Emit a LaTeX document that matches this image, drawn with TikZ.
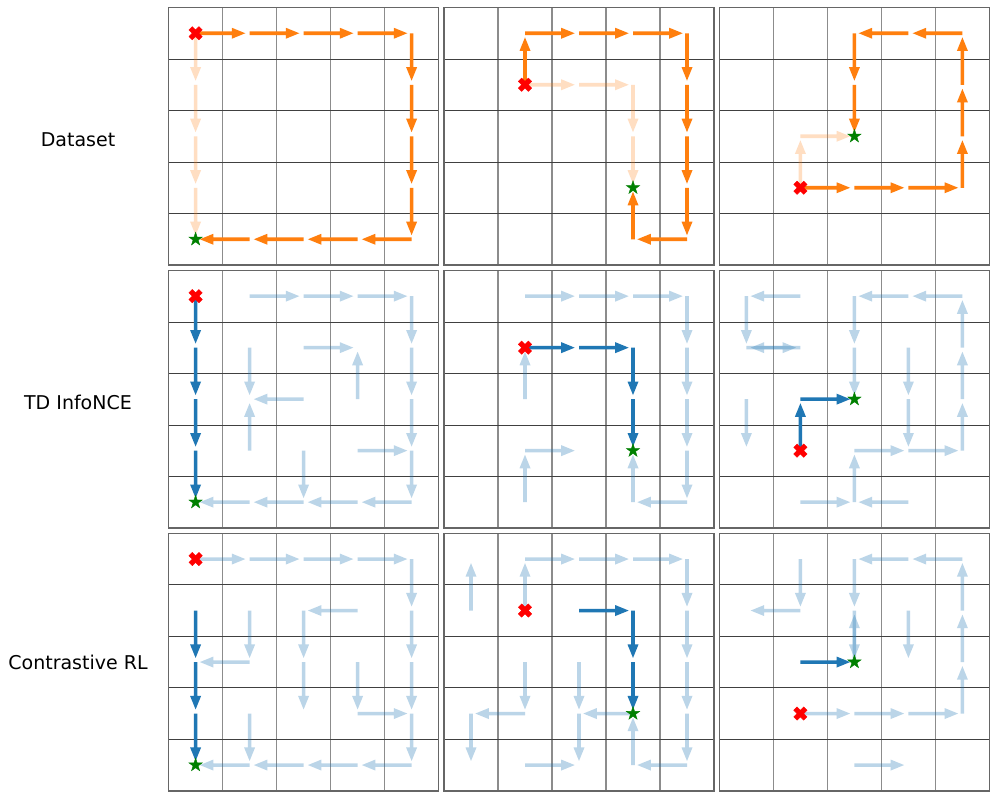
\documentclass[tikz,border=0pt]{standalone}
\usepackage{fontspec}
\setmainfont{DejaVu Sans}
\usetikzlibrary{shapes.geometric}
\definecolor{cone}{RGB}{255,127,14}
\definecolor{cblue}{RGB}{31,119,180}
\definecolor{cgreen}{RGB}{0,128,0}
\tikzset{
 dorange/.style={fill=cone},
 lorange/.style={fill=cone, fill opacity=0.25},
 dblue/.style={fill=cblue},
 lblue/.style={fill=cblue, fill opacity=0.3},
 vgrid/.style={draw=black!45, line width=1.1pt},
 hgrid/.style={draw=black!75, line width=0.7pt},
 frame/.style={draw=black!60, line width=1.4pt},
 goal/.style={star, star points=5, star point ratio=2.6, minimum size=14pt, inner sep=0pt, fill=cgreen, draw=cgreen, line width=0.4pt},
 rowlabel/.style={font=\fontsize{19}{23}\selectfont, anchor=base, inner sep=0pt},
}
\newcommand\qarrow[5]{%
 \pgfmathsetmacro\qsx{27+54*(#2)}%
 \pgfmathsetmacro\qsy{25.75+51.5*(#3)}%
 \pgfmathsetmacro\qlen{((#4)==0) ? 47.4 : 49.7}%
 \pgfmathsetmacro\qmid{\qlen-13.5}%
 \fill[#1] ({\qsx-(#5)*1.8},{\qsy+(#4)*1.8})
  -- ({\qsx+(#4)*\qmid-(#5)*1.8},{\qsy+(#5)*\qmid+(#4)*1.8})
  -- ({\qsx+(#4)*\qmid-(#5)*5.5},{\qsy+(#5)*\qmid+(#4)*5.5})
  -- ({\qsx+(#4)*\qlen},{\qsy+(#5)*\qlen})
  -- ({\qsx+(#4)*\qmid+(#5)*5.5},{\qsy+(#5)*\qmid-(#4)*5.5})
  -- ({\qsx+(#4)*\qmid+(#5)*1.8},{\qsy+(#5)*\qmid-(#4)*1.8})
  -- ({\qsx+(#5)*1.8},{\qsy-(#4)*1.8}) -- cycle;}
\newcommand\qR[3]{\qarrow{#1}{#2}{#3}{1}{0}}
\newcommand\qL[3]{\qarrow{#1}{#2}{#3}{-1}{0}}
\newcommand\qD[3]{\qarrow{#1}{#2}{#3}{0}{1}}
\newcommand\qU[3]{\qarrow{#1}{#2}{#3}{0}{-1}}
\newcommand\panelgrid{%
 \foreach \k in {1,2,3,4} {\draw[vgrid] ({54*\k},0) -- ({54*\k},257.5);}
 \foreach \k in {1,2,3,4} {\draw[hgrid] (0,{51.5*\k}) -- (270,{51.5*\k});}
 \draw[frame] (0,0) rectangle (270,257.5);}
\newcommand\startmark[3]{%
 \begin{scope}[shift={({27+54*(#2)},{25.75+51.5*(#3)})}]
  \node[inner sep=0pt, minimum size=0pt] (#1) at (0,0) {};
  \fill[red, draw=red, line width=0.4pt] (-3.33,-6.65) -- (0,-3.33) -- (3.33,-6.65) -- (6.65,-3.33) -- (3.33,0) -- (6.65,3.33) -- (3.33,6.65) -- (0,3.33) -- (-3.33,6.65) -- (-6.65,3.33) -- (-3.33,0) -- (-6.65,-3.33) -- cycle;
 \end{scope}}
\newcommand\goalmark[3]{\node[goal] (#1) at ({27+54*(#2)},{25.75+51.5*(#3)}) {};}
\begin{document}
\begin{tikzpicture}[x=1pt,y=-1pt]
\useasboundingbox (0,0) rectangle (996,798);
\fill[white] (0,0) rectangle (996,798);
\node[rowlabel] (l1) at (78,146.6) {Dataset};
\node[rowlabel] (l2) at (78,409.8) {TD InfoNCE};
\node[rowlabel] (l3) at (78,669.6) {Contrastive RL};
% ---------- row 1: Dataset
\begin{scope}[shift={(168.6,7.5)}]
 \panelgrid
 \qD{lorange}{0}{0}\qD{lorange}{0}{1}\qD{lorange}{0}{2}\qD{lorange}{0}{3}
 \qR{dorange}{0}{0}\qR{dorange}{1}{0}\qR{dorange}{2}{0}\qR{dorange}{3}{0}
 \qD{dorange}{4}{0}\qD{dorange}{4}{1}\qD{dorange}{4}{2}\qD{dorange}{4}{3}
 \qL{dorange}{4}{4}\qL{dorange}{3}{4}\qL{dorange}{2}{4}\qL{dorange}{1}{4}
 \startmark{s11}{0}{0}\goalmark{g11}{0}{4}
\end{scope}
\begin{scope}[shift={(444,7.5)}]
 \panelgrid
 \qR{lorange}{1}{1}\qR{lorange}{2}{1}\qD{lorange}{3}{1}\qD{lorange}{3}{2}
 \qU{dorange}{1}{1}\qR{dorange}{1}{0}\qR{dorange}{2}{0}\qR{dorange}{3}{0}
 \qD{dorange}{4}{0}\qD{dorange}{4}{1}\qD{dorange}{4}{2}\qD{dorange}{4}{3}
 \qL{dorange}{4}{4}\qU{dorange}{3}{4}
 \startmark{s12}{1}{1}\goalmark{g12}{3}{3}
\end{scope}
\begin{scope}[shift={(719.4,7.5)}]
 \panelgrid
 \qU{lorange}{1}{3}\qR{lorange}{1}{2}
 \qR{dorange}{1}{3}\qR{dorange}{2}{3}\qR{dorange}{3}{3}
 \qU{dorange}{4}{3}\qU{dorange}{4}{2}\qU{dorange}{4}{1}
 \qL{dorange}{4}{0}\qL{dorange}{3}{0}\qD{dorange}{2}{0}\qD{dorange}{2}{1}
 \startmark{s13}{1}{3}\goalmark{g13}{2}{2}
\end{scope}
% ---------- row 2: TD InfoNCE
\begin{scope}[shift={(168.6,270.4)}]
 \panelgrid
 \qR{lblue}{1}{0}\qR{lblue}{2}{0}\qR{lblue}{3}{0}\qD{lblue}{4}{0}
 \qD{lblue}{1}{1}\qR{lblue}{2}{1}\qD{lblue}{4}{1}
 \qL{lblue}{2}{2}\qU{lblue}{3}{2}\qD{lblue}{4}{2}
 \qU{lblue}{1}{3}\qD{lblue}{2}{3}\qR{lblue}{3}{3}\qD{lblue}{4}{3}
 \qL{lblue}{4}{4}\qL{lblue}{3}{4}\qL{lblue}{2}{4}\qL{lblue}{1}{4}
 \qD{dblue}{0}{0}\qD{dblue}{0}{1}\qD{dblue}{0}{2}\qD{dblue}{0}{3}
 \startmark{s21}{0}{0}\goalmark{g21}{0}{4}
\end{scope}
\begin{scope}[shift={(444,270.4)}]
 \panelgrid
 \qR{lblue}{1}{0}\qR{lblue}{2}{0}\qR{lblue}{3}{0}\qD{lblue}{4}{0}
 \qD{lblue}{4}{1}\qD{lblue}{4}{2}\qD{lblue}{4}{3}\qL{lblue}{4}{4}\qU{lblue}{3}{4}
 \qU{lblue}{1}{2}\qU{lblue}{1}{4}\qR{lblue}{1}{3}
 \qR{dblue}{1}{1}\qR{dblue}{2}{1}\qD{dblue}{3}{1}\qD{dblue}{3}{2}
 \startmark{s22}{1}{1}\goalmark{g22}{3}{3}
\end{scope}
\begin{scope}[shift={(719.4,270.4)}]
 \panelgrid
 \qL{lblue}{1}{0}\qD{lblue}{0}{0}\qR{lblue}{0}{1}\qL{lblue}{1}{1}
 \qD{lblue}{2}{0}\qL{lblue}{3}{0}\qL{lblue}{4}{0}\qD{lblue}{2}{1}
 \qU{lblue}{4}{1}\qU{lblue}{4}{2}\qU{lblue}{4}{3}
 \qD{lblue}{3}{1}\qD{lblue}{3}{2}\qD{lblue}{0}{2}
 \qR{lblue}{2}{3}\qR{lblue}{3}{3}\qU{lblue}{2}{4}\qR{lblue}{1}{4}\qL{lblue}{3}{4}
 \qU{dblue}{1}{3}\qR{dblue}{1}{2}
 \startmark{s23}{1}{3}\goalmark{g23}{2}{2}
\end{scope}
% ---------- row 3: Contrastive RL
\begin{scope}[shift={(168.6,533.3)}]
 \panelgrid
 \qR{lblue}{0}{0}\qR{lblue}{1}{0}\qR{lblue}{2}{0}\qR{lblue}{3}{0}\qD{lblue}{4}{0}
 \qD{lblue}{1}{1}\qL{lblue}{3}{1}\qD{lblue}{2}{1}\qD{lblue}{4}{1}
 \qL{lblue}{1}{2}\qD{lblue}{2}{2}\qD{lblue}{3}{2}\qD{lblue}{4}{2}
 \qR{lblue}{3}{3}\qD{lblue}{4}{3}\qD{lblue}{1}{3}
 \qL{lblue}{4}{4}\qL{lblue}{3}{4}\qL{lblue}{2}{4}\qL{lblue}{1}{4}
 \qD{dblue}{0}{1}\qD{dblue}{0}{2}\qD{dblue}{0}{3}
 \startmark{s31}{0}{0}\goalmark{g31}{0}{4}
\end{scope}
\begin{scope}[shift={(444,533.3)}]
 \panelgrid
 \qU{lblue}{0}{1}\qU{lblue}{1}{1}
 \qR{lblue}{1}{0}\qR{lblue}{2}{0}\qR{lblue}{3}{0}\qD{lblue}{4}{0}
 \qD{lblue}{4}{1}\qD{lblue}{4}{2}\qD{lblue}{4}{3}\qL{lblue}{4}{4}\qU{lblue}{3}{4}
 \qD{lblue}{1}{2}\qD{lblue}{2}{2}\qL{lblue}{1}{3}\qD{lblue}{0}{3}
 \qL{lblue}{3}{3}\qD{lblue}{2}{3}\qR{lblue}{1}{4}
 \qR{dblue}{2}{1}\qD{dblue}{3}{1}\qD{dblue}{3}{2}
 \startmark{s32}{1}{1}\goalmark{g32}{3}{3}
\end{scope}
\begin{scope}[shift={(719.4,533.3)}]
 \panelgrid
 \qD{lblue}{1}{0}\qL{lblue}{1}{1}\qD{lblue}{2}{0}\qL{lblue}{3}{0}\qL{lblue}{4}{0}
 \qD{lblue}{2}{1}\qU{lblue}{2}{2}\qD{lblue}{3}{1}
 \qU{lblue}{4}{1}\qU{lblue}{4}{2}\qU{lblue}{4}{3}
 \qR{lblue}{1}{3}\qR{lblue}{2}{3}\qR{lblue}{3}{3}\qR{lblue}{2}{4}
 \qR{dblue}{1}{2}
 \startmark{s33}{1}{3}\goalmark{g33}{2}{2}
\end{scope}
\end{tikzpicture}
\end{document}
